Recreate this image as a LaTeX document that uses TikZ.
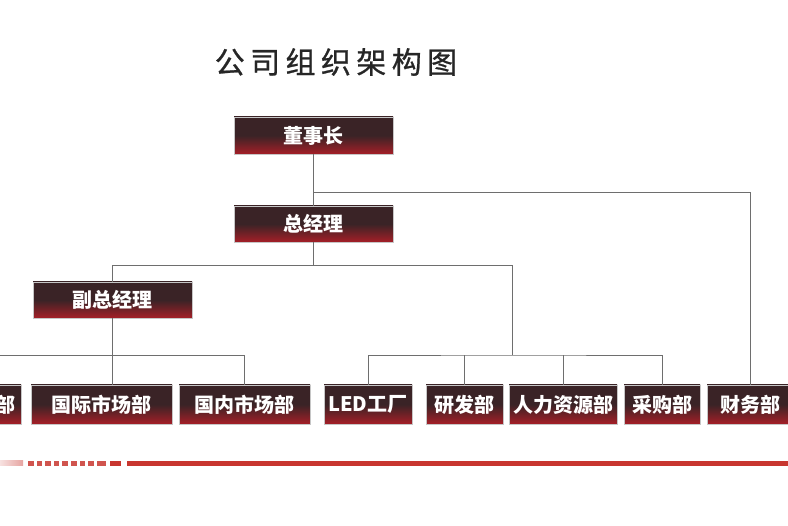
\documentclass[tikz,border=0pt]{standalone}
\usepackage{fontspec}
\usepackage{xcolor}
\usepackage{tikz}
\newfontfamily\cjkfont{Noto Sans CJK SC}
\newfontfamily\titlefont{Noto Sans CJK SC}[LetterSpace=18, FakeBold=0.8]
\definecolor{box_top}{HTML}{3A2326}
\definecolor{box_bot}{HTML}{A51F27}
\definecolor{link_gray}{HTML}{6E6E6E}
\definecolor{bar_red}{HTML}{C8362F}
\tikzset{
    org_node/.style = {rectangle, align=center, inner sep=0pt, text=white, font=\cjkfont\bfseries\fontsize{20}{20}\selectfont, draw=gray!45, line width=0.5pt, top color=box_top, bottom color=box_bot, middle color=box_top, minimum width=159pt, minimum height=36pt},
    dept_node/.style = {org_node, minimum height=39pt},
    title_text/.style = {inner sep=0pt, text=black!85, font=\titlefont\fontsize{30}{30}\selectfont},
    link/.style = {draw=link_gray, line width=0.8pt}
}

\begin{document}
\begin{tikzpicture}[x=1pt,y=-1pt]
    \useasboundingbox (0,0) rectangle (788,526);
    \clip (0,0) rectangle (788,526);
    \fill[white] (0,0) rectangle (788,526);

    % title
    \node [title_text] (title) at (336,62) {公司组织架构图};

    % boxes
    \node [org_node, minimum height=37pt] (dsz) at (313.5,135.5) {董事长};
    \node [org_node] (zjl) at (313.5,224) {总经理};
    \node [org_node] (fzjl) at (112.5,300) {副总经理};
    \node [dept_node, minimum width=141pt, text width=131pt, align=right] (xxb) at (-49.5,404.5) {部};
    \node [dept_node, minimum width=141pt] (gjsc) at (101.5,404.5) {国际市场部};
    \node [dept_node, minimum width=131pt] (gnsc) at (244.5,404.5) {国内市场部};
    \node [dept_node, minimum width=88pt] (led) at (368,404.5) {LED工厂};
    \node [dept_node, minimum width=77pt] (yfb) at (464.5,404.5) {研发部};
    \node [dept_node, minimum width=108pt] (rlzy) at (563,404.5) {人力资源部};
    \node [dept_node, minimum width=76pt] (cgb) at (662,404.5) {采购部};
    \node [dept_node, minimum width=86pt] (cwb) at (750,404.5) {财务部};

    % bus points
    \coordinate (ds_split) at (313.5,192);
    \coordinate (gm_split) at (313.5,265);
    \coordinate (r_top) at (512,265);
    \coordinate (r_bus) at (512,355);
    \coordinate (l_bus) at (0,355);

    % links
    \draw [link] (dsz.south) -- (zjl.north);
    \draw [link] (ds_split) -| (cwb.north);
    \draw [link] (zjl.south) -- (gm_split);
    \draw [link] (fzjl.north) |- (r_top) -- (r_bus);
    \draw [link] (fzjl.south) -- (fzjl |- gjsc.north);
    \draw [link] (xxb.north) |- (gnsc.north |- l_bus) -- (gnsc.north);
    \draw [link] (led.north) |- (r_bus) -| (cgb.north);
    \draw [link] (yfb.north) -- (yfb.north |- r_bus);
    \draw [link] (rlzy.north) -- (rlzy.north |- r_bus);

    % bottom bar
    \shade [left color=bar_red!15, right color=bar_red!45] (0,461) rectangle (23,466);
    \foreach \i in {0,...,7}
        \fill [bar_red!85] (28+\i*8.6,461) rectangle (33.5+\i*8.6,466);
    \fill [bar_red!85] (97,461) rectangle (106,466);
    \fill [bar_red] (110,461) rectangle (121,466);
    \fill [bar_red] (127,461) rectangle (788,466);
\end{tikzpicture}
\end{document}
